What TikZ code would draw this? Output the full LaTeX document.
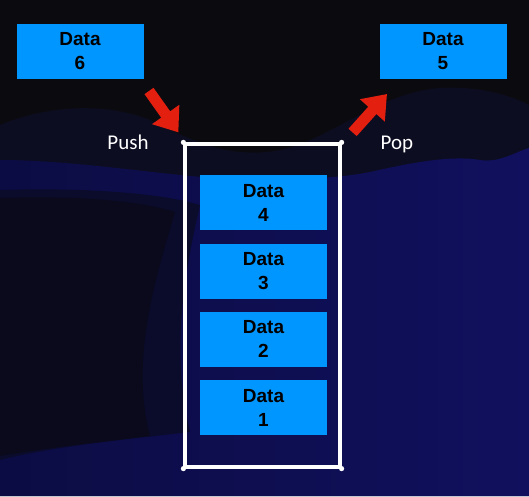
\documentclass[tikz,border=0pt]{standalone}
\usepackage{fontspec}
\setmainfont{Liberation Sans}
\newfontfamily\labelfont{Carlito}
\usetikzlibrary{arrows.meta}
\definecolor{bgtop}{HTML}{0B0B0F}
\definecolor{wave1}{HTML}{0D0D22}
\definecolor{wave2l}{HTML}{0C0C44}
\definecolor{wave2r}{HTML}{10105E}
\definecolor{wave3a}{HTML}{0B0B2C}
\definecolor{wave3b}{HTML}{0A0A1C}
\definecolor{boxblue}{HTML}{0096FF}
\definecolor{arrred}{HTML}{E3200F}
\tikzset{
  databox/.style={fill=boxblue, draw=none, minimum width=127pt, minimum height=55pt,
    align=center, inner sep=0pt, font=\fontsize{19}{24}\selectfont\bfseries, text=black},
  lbl/.style={text=white, font=\labelfont\fontsize{21}{24}\selectfont, inner sep=0pt},
  stackbox/.style={draw=white, line width=3.2pt, minimum width=155pt, minimum height=323pt, inner sep=0pt},
  bigarrow/.style={arrred, line width=11pt, -{Triangle[length=22pt,width=32pt]}}
}
\begin{document}
\begin{tikzpicture}[x=1pt,y=-1pt]
\useasboundingbox (0,0) rectangle (529,496);
% background
\fill[bgtop] (0,0) rectangle (529,496);
\fill[wave1] (0,125) .. controls (40,108) and (100,100) .. (150,120)
  .. controls (190,140) and (230,160) .. (280,150)
  .. controls (330,140) and (380,92) .. (440,88)
  .. controls (480,86) and (510,95) .. (529,105) -- (529,496) -- (0,496) -- cycle;
\shade[left color=wave2l, right color=wave2r] (0,160) .. controls (60,160) and (130,170) .. (190,176)
  .. controls (260,182) and (330,180) .. (370,172)
  .. controls (410,163) and (450,155) .. (480,160)
  .. controls (500,163) and (515,152) .. (529,148) -- (529,496) -- (0,496) -- cycle;
\fill[wave3a] (0,190) .. controls (60,188) and (150,190) .. (200,205)
  .. controls (185,270) and (170,350) .. (190,432)
  .. controls (120,440) and (50,447) .. (0,460) -- cycle;
\fill[wave3b] (0,198) .. controls (60,196) and (130,198) .. (175,212)
  .. controls (155,280) and (130,360) .. (150,436)
  .. controls (100,442) and (45,448) .. (0,456) -- cycle;
% stack
\node[stackbox] (stack) at (262.5,305.5) {};
\foreach \c in {north west,north east,south west,south east}
  \fill[white] (stack.\c) circle (2.6pt);
\node[databox] (d4) at (263.5,202.5) {Data\\4};
\node[databox] (d3) at (263.5,271) {Data\\3};
\node[databox] (d2) at (263.5,339) {Data\\2};
\node[databox] (d1) at (263.5,407.5) {Data\\1};
\node[databox] (d6) at (80,51.5) {Data\\6};
\node[databox] (d5) at (443,51.5) {Data\\5};
% labels
\node[lbl, anchor=base] (push) at (128,149) {Push};
\node[lbl, anchor=base] (pop) at (397,149) {Pop};
% arrows
\coordinate (pushs) at (149,91);
\coordinate (pushe) at ([shift={(-5,-10)}]stack.north west);
\coordinate (pops) at ([shift={(11,-10)}]stack.north east);
\coordinate (pope) at (387,94);
\draw[bigarrow] (pushs) -- (pushe);
\draw[bigarrow] (pops) -- (pope);
\end{tikzpicture}
\end{document}
